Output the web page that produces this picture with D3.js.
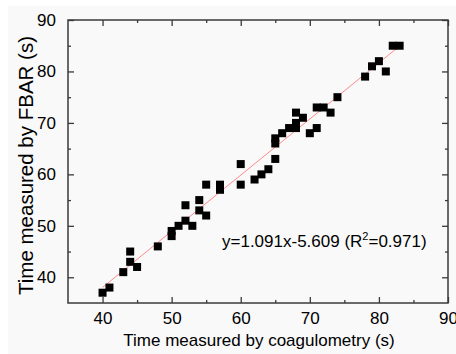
<!DOCTYPE html>
<html>
<head>
<meta charset="utf-8">
<script src="https://cdn.jsdelivr.net/npm/d3@7"></script>
<style>
  html, body { margin: 0; padding: 0; background: #ffffff; }
  svg { display: block; }
  text { font-family: "Liberation Sans", Arial, sans-serif; fill: #000; }
</style>
</head>
<body>
<svg id="chart" width="456" height="354"></svg>
<script>
// Data
const coagulometry = [40, 41, 43, 44, 44, 45, 48, 50, 50, 51, 52, 53, 52, 54, 54, 55, 55, 57, 57, 60, 60, 62, 63, 64, 65, 65, 65, 66, 67, 68, 68, 68, 69, 70, 71, 71, 72, 73, 74, 78, 79, 80, 81, 82, 83];
const fbar         = [37, 38, 41, 45, 43, 42, 46, 48, 49, 50, 51, 50, 54, 55, 53, 52, 58, 58, 57, 58, 62, 59, 60, 61, 63, 66, 67, 68, 69, 69, 70, 72, 71, 68, 69, 73, 73, 72, 75, 79, 81, 82, 80, 85, 85];
const majorTicks = [40, 50, 60, 70, 80, 90];
const minorTicks = [45, 55, 65, 75, 85];
const fitSlope = 1.091;
const fitIntercept = -5.609;
const fitRange = [40, 83];
const xTitle = "Time measured by coagulometry (s)";
const yTitle = "Time measured by FBAR (s)";

const svg = d3.select("#chart");
const L = 68, R = 448, T = 20, B = 303;
const axisColor = "#3a3a3a";

svg.append("rect").attr("x", 8).attr("y", 6).attr("width", 448).attr("height", 348).attr("fill", "#f9f9f9");

const x = d3.scaleLinear().domain([35, 90]).range([L, R]);
const y = d3.scaleLinear().domain([35, 90]).range([B, T]);

// fit line
const fitData = fitRange.map(v => [v, fitSlope * v + fitIntercept]);
svg.append("path")
  .datum(fitData)
  .attr("d", d3.line().x(d => x(d[0])).y(d => y(d[1])))
  .attr("stroke", "#ff8a8a").attr("stroke-width", 1).attr("fill", "none");

// points
const pts = coagulometry.map((v, i) => [v, fbar[i]]);
const s = 8;
svg.append("g").selectAll("rect").data(pts).join("rect")
  .attr("x", d => x(d[0]) - s / 2)
  .attr("y", d => y(d[1]) - s / 2)
  .attr("width", s).attr("height", s)
  .attr("fill", "#000");

// axes (inward ticks on all four sides)
function styleAxis(g) {
  g.selectAll("path").remove();
  g.selectAll("line").attr("stroke", axisColor).attr("stroke-width", 1.3);
}
const fontSize = 17;
// bottom major
svg.append("g").attr("transform", `translate(0,${B})`)
  .call(d3.axisBottom(x).tickValues(majorTicks).tickSizeInner(-6).tickSizeOuter(0).tickPadding(9).tickFormat(d3.format("d")))
  .call(styleAxis)
  .call(g => g.selectAll("text").attr("font-size", fontSize).attr("font-family", "Liberation Sans, Arial, sans-serif").attr("fill", "#000"));
svg.append("g").attr("transform", `translate(0,${B})`)
  .call(d3.axisBottom(x).tickValues(minorTicks).tickSizeInner(-3).tickSizeOuter(0).tickFormat(""))
  .call(styleAxis);
// top
svg.append("g").attr("transform", `translate(0,${T})`)
  .call(d3.axisTop(x).tickValues(majorTicks).tickSizeInner(-6).tickSizeOuter(0).tickFormat(""))
  .call(styleAxis);
svg.append("g").attr("transform", `translate(0,${T})`)
  .call(d3.axisTop(x).tickValues(minorTicks).tickSizeInner(-3).tickSizeOuter(0).tickFormat(""))
  .call(styleAxis);
// left
svg.append("g").attr("transform", `translate(${L},0)`)
  .call(d3.axisLeft(y).tickValues(majorTicks).tickSizeInner(-6).tickSizeOuter(0).tickPadding(12).tickFormat(d3.format("d")))
  .call(styleAxis)
  .call(g => g.selectAll("text").attr("font-size", fontSize).attr("font-family", "Liberation Sans, Arial, sans-serif").attr("fill", "#000"));
svg.append("g").attr("transform", `translate(${L},0)`)
  .call(d3.axisLeft(y).tickValues(minorTicks).tickSizeInner(-3).tickSizeOuter(0).tickFormat(""))
  .call(styleAxis);
// right
svg.append("g").attr("transform", `translate(${R},0)`)
  .call(d3.axisRight(y).tickValues(majorTicks).tickSizeInner(-6).tickSizeOuter(0).tickFormat(""))
  .call(styleAxis);
svg.append("g").attr("transform", `translate(${R},0)`)
  .call(d3.axisRight(y).tickValues(minorTicks).tickSizeInner(-3).tickSizeOuter(0).tickFormat(""))
  .call(styleAxis);

// frame
svg.append("rect").attr("x", L).attr("y", T).attr("width", R - L).attr("height", B - T)
  .attr("fill", "none").attr("stroke", axisColor).attr("stroke-width", 1.5);

// titles
svg.append("text").attr("x", (L + R) / 2 + 1).attr("y", 346).attr("text-anchor", "middle")
  .attr("font-size", fontSize).text(xTitle);
svg.append("text").attr("transform", `translate(33,${(T + B) / 2 + 4}) rotate(-90)`).attr("text-anchor", "middle")
  .attr("font-size", 20.5).text(yTitle);

// annotation
const ann = svg.append("text").attr("x", 222).attr("y", 247).attr("font-size", fontSize);
ann.append("tspan").text("y=" + fitSlope + "x" + fitIntercept + " (R");
ann.append("tspan").attr("font-size", 11).attr("dy", -7).text("2");
ann.append("tspan").attr("dy", 7).text("=0.971)");
</script>
</body>
</html>
